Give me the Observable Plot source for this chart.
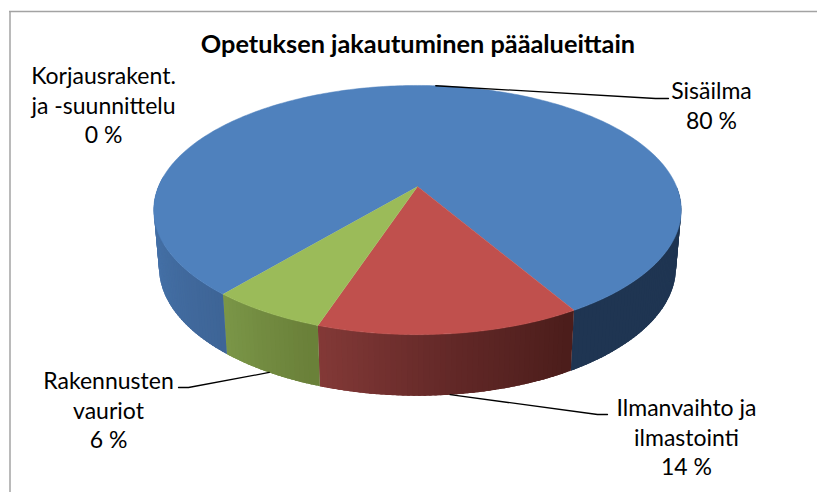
<!DOCTYPE html>
<html>
<head>
<meta charset="utf-8">
<style>html,body{margin:0;padding:0;background:#fff}svg{display:block}</style>
<script src="https://cdn.jsdelivr.net/npm/d3@7"></script>
<script src="https://cdn.jsdelivr.net/npm/@observablehq/plot@0.6"></script>
</head>
<body>
<div id="chart"></div>
<script>
const title = "Opetuksen jakautuminen pääalueittain";
const categories = ["Sisäilma", "Ilmanvaihto ja\nilmastointi", "Korjausrakent.\nja -suunnittelu", "Rakennusten\nvauriot"];
const shares = [80.45, 13.55, 0, 6.0];
const topColors = ["#4f81bd", "#c0504d", "#9bbb59", "#9bbb59"];
const firstSliceAngle = 220;

// label layout
const labelX = [711, 686, 103, 108];
const labelY = [103.5, 435.5, 103.5, 408.5];
const elbowX = [[655, 668], [597, 607], null, [188, 178]];
const elbowY = [[98, 98], [414, 414], null, [387, 387]];
const anchorOnBase = [false, true, false, true];

// side shading: clockwise angle, colour
const shadeStops = [
  [[90, "#1f3552"], [149.62, "#1f3552"]],
  [[149.62, "#4c1d1b"], [172, "#622827"], [198.4, "#853a38"]],
  [[198.4, "#6a8039"], [220, "#7c9849"]],
  [[220, "#3e6597"], [250, "#4470a6"], [275, "#4672aa"]]
];

// view of the tilted disc
const cx = 417, cy = 186, R = 259, persp = -0.189, tilt = 85;
const baseScale = 0.98, baseK = 1.03, baseShift = 56.6;
const rad = a => a * Math.PI / 180;
function rim(a) {
  const u = Math.sin(rad(a)), v = -Math.cos(rad(a));
  const w = 1 + persp * v;
  return [cx + R * u / w, (tilt * v + cy) / w];
}
function base(a) {
  const [x, y] = rim(a);
  return [cx + (x - cx) * baseScale, cy + (y - cy) * baseK + baseShift];
}

// slices (clockwise from the first slice angle)
let start = firstSliceAngle;
const slices = categories.map((c, i) => {
  const s = {i, name: c, share: shares[i], a0: start, a1: start + shares[i] * 3.6, color: topColors[i]};
  start = s.a1;
  return s;
});

const topPoly = [];
for (const s of slices) {
  if (s.share === 0) continue;
  topPoly.push({k: s.i, x: cx, y: cy, color: s.color});
  for (let a = s.a0; ; a += 1) {
    const p = rim(Math.min(a, s.a1));
    topPoly.push({k: s.i, x: p[0], y: p[1], color: s.color});
    if (a >= s.a1) break;
  }
}

// overlapping strips, painted in angle order, so no seams show
const strips = [];
shadeStops.forEach((stops, si) => {
  const lo = stops[0][0], hi = stops[stops.length - 1][0];
  const col = d3.scaleLinear().domain(stops.map(d => d[0])).range(stops.map(d => d[1])).interpolate(d3.interpolateRgb);
  for (let a = hi - 1; a >= lo - 1; a -= 1) {
    const a0 = Math.max(a, lo), b = Math.min(a + 2.5, hi), k = si + "-" + a, c = col(a0 + 0.5);
    for (const p of [rim(a0), rim(b), base(b), base(a0)]) strips.push({k, x: p[0], y: p[1], color: c});
  }
});

const labels = slices.map((s, i) => ({x: labelX[i], y: labelY[i], text: s.name + "\n" + Math.round(s.share) + " %"}));

const leaders = [];
slices.forEach((s, i) => {
  if (!elbowX[i]) return;
  const m = (s.a0 + s.a1) / 2, p = anchorOnBase[i] ? base(m) : rim(m);
  [p, [elbowX[i][0], elbowY[i][0]], [elbowX[i][1], elbowY[i][1]]].forEach(q => leaders.push({k: i, x: q[0], y: q[1]}));
});

const chart = Plot.plot({
  width: 817, height: 492,
  margin: 0,
  x: {domain: [0, 817], range: [0, 817], axis: null},
  y: {domain: [0, 492], range: [0, 492], axis: null},
  color: {type: "identity"},
  style: {background: "#fff", fontFamily: "Lato, sans-serif"},
  marks: [
    Plot.ruleX([9.5], {y1: 11, y2: 492, stroke: "#a3a3a3", strokeWidth: 1.5}),
    Plot.ruleY([11], {x1: 9, x2: 817, stroke: "#a3a3a3", strokeWidth: 1.5}),
    Plot.line(strips, {x: "x", y: "y", z: "k", fill: "color", stroke: "none"}),
    Plot.line(topPoly, {x: "x", y: "y", z: "k", fill: "color", stroke: "color", strokeWidth: 0.5}),
    Plot.line(leaders, {x: "x", y: "y", z: "k", stroke: "#000", strokeWidth: 1.3}),
    Plot.text([title], {x: () => 417.5, y: () => 44, text: d => d, fontSize: 25.3, fontWeight: 700, fill: "#000"}),
    Plot.text(labels, {x: "x", y: "y", text: "text", fontSize: 23, lineHeight: 1.3, fill: "#000"})
  ]
});
document.getElementById("chart").appendChild(chart);
</script>
</body>
</html>
